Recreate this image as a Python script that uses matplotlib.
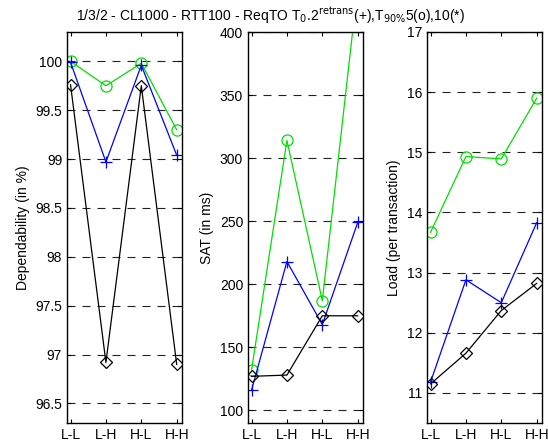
import matplotlib.pyplot as plt

plt.rcParams['font.family'] = ['Liberation Sans', 'DejaVu Sans']
plt.rcParams['font.size'] = 10

# scenario labels on the x axis
scenarios = ['L-L', 'L-H', 'H-L', 'H-H']

# dependability (in %)
dep_retrans = [99.99, 98.97, 99.96, 99.04]
dep_t90_5 = [100.0, 99.75, 99.98, 99.30]
dep_t90_10 = [99.76, 96.92, 99.75, 96.90]

# SAT (in ms)
sat_retrans = [116, 218, 168, 249]
sat_t90_5 = [132, 314, 187, 436]
sat_t90_10 = [127, 128, 175, 175]

# load (per transaction)
load_retrans = [11.18, 12.88, 12.50, 13.83]
load_t90_5 = [13.67, 14.93, 14.89, 15.90]
load_t90_10 = [11.15, 11.66, 12.37, 12.82]

x = [1, 2, 3, 4]

fig = plt.figure(figsize=(5.48, 4.48), dpi=100)
W, H = 548.0, 448.0

panels = [
    (67, dep_retrans, dep_t90_5, dep_t90_10, 'Dependability (in %)',
     (96.3, 100.3), [96.5, 97, 97.5, 98, 98.5, 99, 99.5, 100],
     ['96.5', '97', '97.5', '98', '98.5', '99', '99.5', '100']),
    (248, sat_retrans, sat_t90_5, sat_t90_10, 'SAT (in ms)',
     (90, 400), [100, 150, 200, 250, 300, 350, 400],
     ['100', '150', '200', '250', '300', '350', '400']),
    (427, load_retrans, load_t90_5, load_t90_10, 'Load (per transaction)',
     (10.5, 17), [11, 12, 13, 14, 15, 16, 17],
     ['11', '12', '13', '14', '15', '16', '17']),
]

for left, y_plus, y_circ, y_diam, label, ylim, yt, ytl in panels:
    ax = fig.add_axes([left / W, (H - 423) / H, 115 / W, (423 - 32) / H])
    for yv in yt:
        ax.axhline(yv, color='#222222', lw=0.8, ls=(0, (7.2, 6.3)), zorder=0)
    ax.plot(x, y_circ, color='#00e000', lw=0.9, marker='o', ms=8,
            mfc='none', mec='#00e000', mew=0.9, clip_on=True)
    ax.plot(x, y_plus, color='blue', lw=0.9, marker='+', ms=9,
            mew=0.9, clip_on=True)
    ax.plot(x, y_diam, color='black', lw=0.9, marker='D', ms=6,
            mfc='none', mec='black', mew=0.9, clip_on=True)
    ax.set_xlim(0.9, 4.15)
    ax.set_ylim(*ylim)
    ax.set_xticks(x)
    ax.set_xticklabels(scenarios)
    ax.set_yticks(yt)
    ax.set_yticklabels(ytl)
    ax.set_ylabel(label)
    ax.tick_params(direction='in', top=True, right=True, length=3,
                   width=0.8, labelsize=10)
    for sp in ax.spines.values():
        sp.set_linewidth(1.0)

fig.text(270 / W, 1 - 16 / H,
         r'1/3/2 - CL1000 - RTT100 - ReqTO T$_0$.2$^{\mathrm{retrans}}$(+),T$_{90\%}$5(o),10(*)',
         ha='center', va='center', fontsize=10)

fig.savefig('out.png', dpi=100)
